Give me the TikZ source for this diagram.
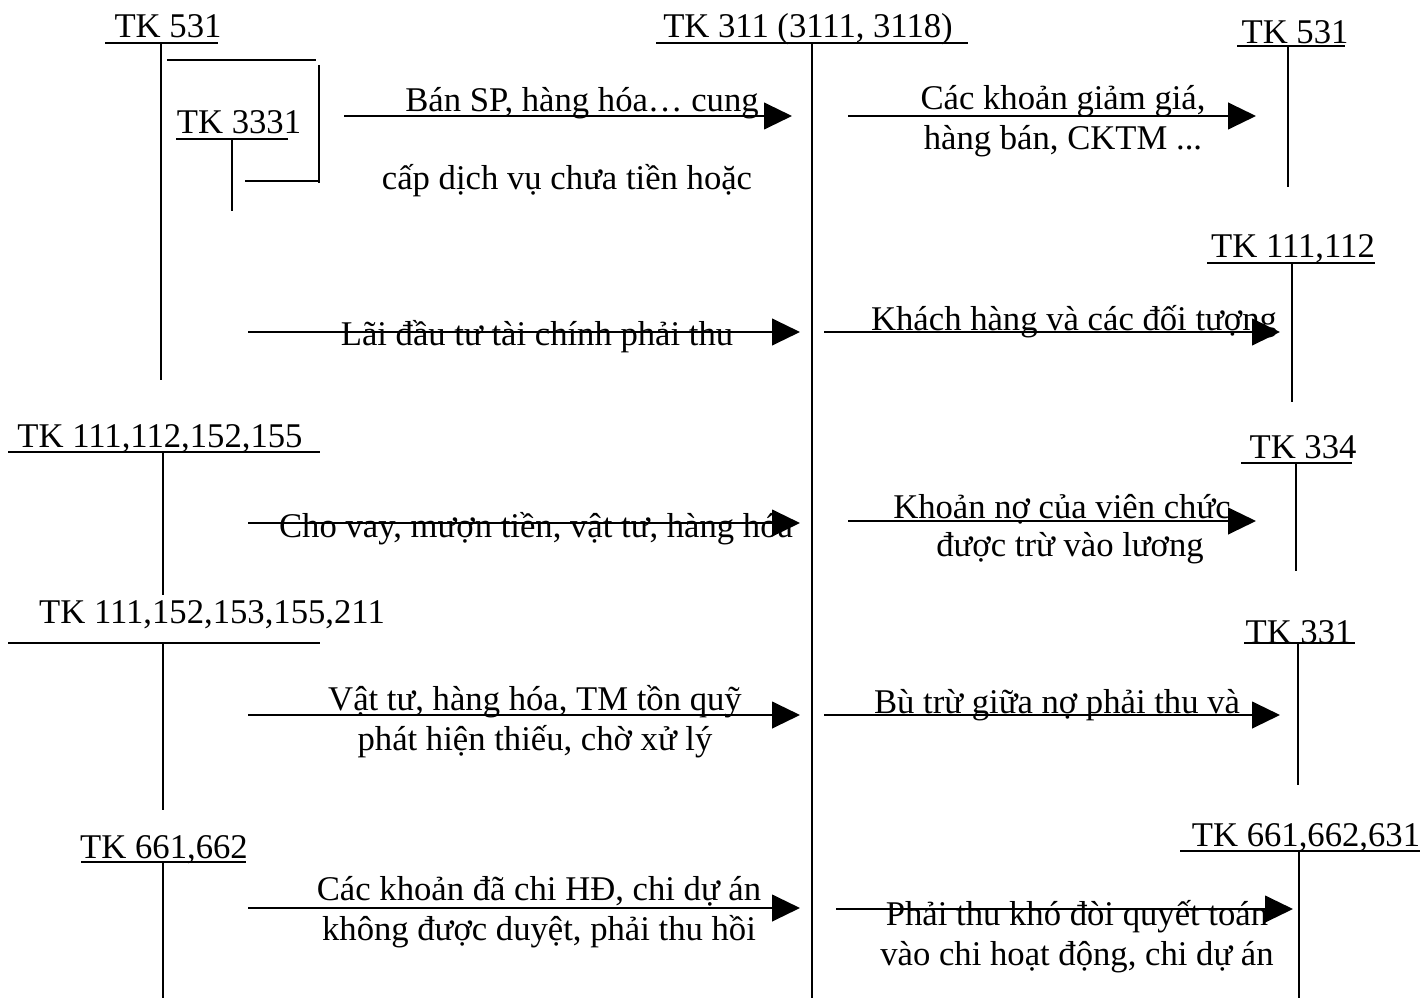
\documentclass[tikz,border=0pt]{standalone}
\usepackage{fontspec}
\setmainfont{Liberation Serif}
\usetikzlibrary{arrows.meta}
\newcommand{\tkfont}{\fontsize{26}{30}\selectfont}

\begin{document}
\begin{tikzpicture}[
    x=0.75pt, y=-0.75pt,
    tk/.style={anchor=base, inner sep=0pt, font=\tkfont},
    lbl/.style={anchor=base, inner sep=0pt, font=\tkfont, align=center},
    tline/.style={line width=1.5pt},
    arrow/.style={-{Triangle[length=21pt,width=20pt]}, line width=1.6pt}
]
\useasboundingbox (0,0) rectangle (1426,998);

\node[tk] (c311) at (808,38) {TK 311 (3111, 3118)};
\draw[tline] (656,43) -- (968,43) (812,43) -- (812,998);

\node[tk] (l531) at (168,38) {TK 531};
\draw[tline] (105,43) -- (218,43) (161,43) -- (161,380);
\node[tk] (l3331) at (239,134) {TK 3331};
\draw[tline] (176,139) -- (288,139) (232,139) -- (232,211);
\draw[tline] (167,60) -- (316,60);
\draw[tline] (319,65) -- (319,183);
\draw[tline] (245,181) -- (319,181);
\node[tk] (l111a) at (160,447) {TK 111,112,152,155};
\draw[tline] (8,452) -- (320,452) (163,452) -- (163,595);
\node[tk] (l111b) at (212,623) {TK 111,152,153,155,211};
\draw[tline] (8,643) -- (320,643) (163,643) -- (163,810);
\node[tk] (l661) at (164,858) {TK 661,662};
\draw[tline] (81,862) -- (246,862) (163,862) -- (163,998);

\node[tk] (r531) at (1295,44) {TK 531};
\draw[tline] (1237,46) -- (1345,46) (1288,46) -- (1288,187);
\node[tk] (r111) at (1293,258) {TK 111,112};
\draw[tline] (1207,263) -- (1375,263) (1292,263) -- (1292,402);
\node[tk] (r334) at (1303,458) {TK 334};
\draw[tline] (1241,463) -- (1352,463) (1296,463) -- (1296,571);
\node[tk] (r331) at (1299,643) {TK 331};
\draw[tline] (1244,643) -- (1355,643) (1298,643) -- (1298,785);
\node[tk] (r661) at (1306,846) {TK 661,662,631};
\draw[tline] (1180,851) -- (1420,851) (1299,851) -- (1299,998);

\node[lbl] (ban) at (582,112) {Bán SP, hàng hóa… cung};
\node[lbl] (cap) at (567,190) {cấp dịch vụ chưa tiền hoặc};
\node[lbl] (giam) at (1063,150) {Các khoản giảm giá,\\hàng bán, CKTM ...};
\node[lbl] (lai) at (537,345) {Lãi đầu tư tài chính phải thu};
\node[lbl] (khach) at (1074,330) {Khách hàng và các đối tượng};
\node[lbl] (vay) at (536,537) {Cho vay, mượn tiền, vật tư, hàng hóa};
\node[lbl, anchor=base west] (no) at (893,518) {Khoản nợ của viên chức};
\node[lbl] (luong) at (1070,556) {được trừ vào lương};
\node[lbl] (thieu) at (535,750) {Vật tư, hàng hóa, TM tồn quỹ\\phát hiện thiếu, chờ xử lý};
\node[lbl] (butru) at (1057,713) {Bù trừ giữa nợ phải thu và};
\node[lbl] (chihd) at (539,940) {Các khoản đã chi HĐ, chi dự án\\không được duyệt, phải thu hồi};
\node[lbl] (khodoi) at (1077,965) {Phải thu khó đòi quyết toán\\vào chi hoạt động, chi dự án};

\coordinate (s1) at (344,116);  \coordinate (e1) at (792,116);
\coordinate (s2) at (248,332);  \coordinate (e2) at (800,332);
\coordinate (s3) at (248,523);  \coordinate (e3) at (800,523);
\coordinate (s4) at (248,715);  \coordinate (e4) at (800,715);
\coordinate (s5) at (248,908);  \coordinate (e5) at (800,908);
\coordinate (t1) at (848,116);  \coordinate (f1) at (1256,116);
\coordinate (t2) at (824,332);  \coordinate (f2) at (1280,332);
\coordinate (t3) at (848,521);  \coordinate (f3) at (1256,521);
\coordinate (t4) at (824,715);  \coordinate (f4) at (1280,715);
\coordinate (t5) at (836,909);  \coordinate (f5) at (1293,909);

\draw[arrow] (s1) -- (e1);
\draw[arrow] (s2) -- (e2);
\draw[arrow] (s3) -- (e3);
\draw[arrow] (s4) -- (e4);
\draw[arrow] (s5) -- (e5);
\draw[arrow] (t1) -- (f1);
\draw[arrow] (t2) -- (f2);
\draw[arrow] (t3) -- (f3);
\draw[arrow] (t4) -- (f4);
\draw[arrow] (t5) -- (f5);
\end{tikzpicture}
\end{document}
